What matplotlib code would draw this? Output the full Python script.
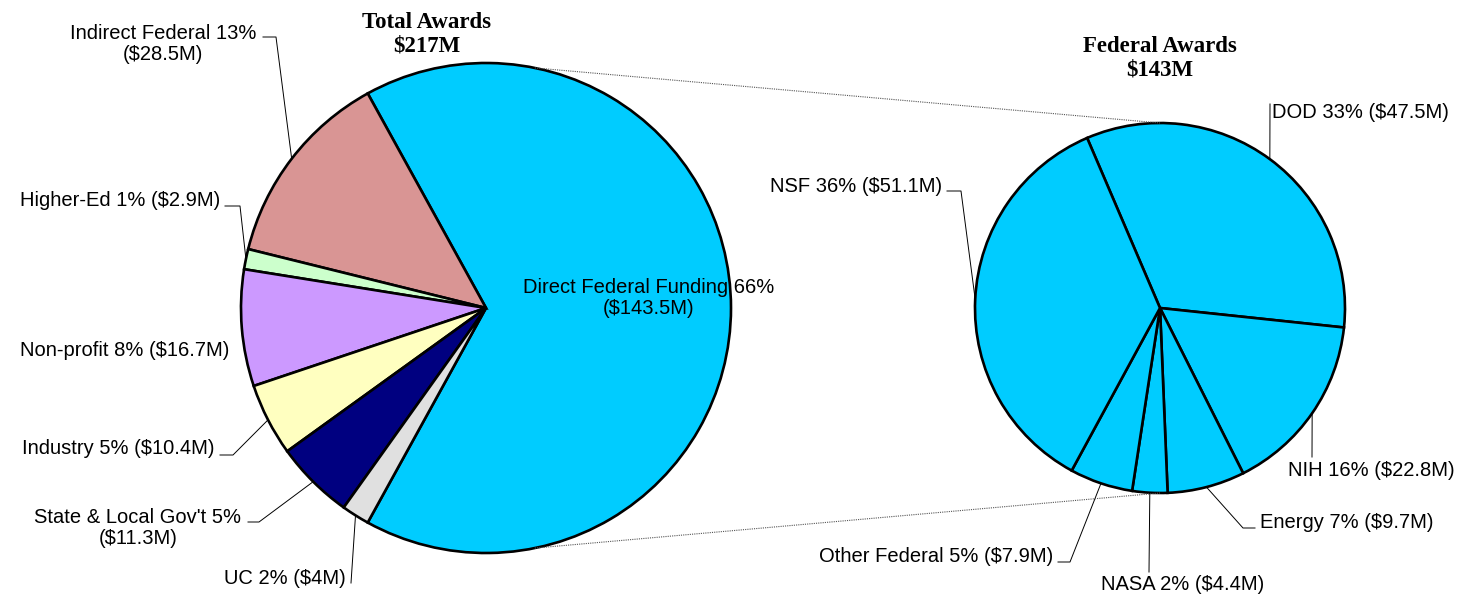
# Pie-of-pie chart of research awards by sponsor

import numpy as np
import matplotlib.pyplot as plt

W, H = 1459, 596

# Total awards ($M)
total_names = ["Direct Federal Funding", "Indirect Federal", "Higher-Ed",
               "Non-profit", "Industry", "State & Local Gov't", "UC"]
total_values = [143.5, 28.5, 2.9, 16.7, 10.4, 11.3, 4]
total_labels = ["Direct Federal Funding 66%\n($143.5M)",
                "Indirect Federal 13%\n($28.5M)",
                "Higher-Ed 1% ($2.9M)",
                "Non-profit 8% ($16.7M)",
                "Industry 5% ($10.4M)",
                "State & Local Gov't 5%\n($11.3M)",
                "UC 2% ($4M)"]
total_colors = ["#00CCFF", "#D99594", "#CCFFCC", "#CC99FF",
                "#FFFFC0", "#000080", "#E0E0E0"]

# Federal awards ($M)
fed_names = ["DOD", "NIH", "Energy", "NASA", "Other Federal", "NSF"]
fed_values = [47.5, 22.8, 9.7, 4.4, 7.9, 51.1]
fed_labels = ["DOD 33% ($47.5M)", "NIH 16% ($22.8M)", "Energy 7% ($9.7M)",
              "NASA 2% ($4.4M)", "Other Federal 5% ($7.9M)", "NSF 36% ($51.1M)"]

plt.rcParams["font.family"] = ["Liberation Sans", "DejaVu Sans"]

fig = plt.figure(figsize=(W / 100, H / 100), dpi=100)
ax = fig.add_axes([0, 0, 1, 1])

# pixel layout (y measured from top)
c1, r1 = (486, 308), 245
c2, r2 = (1160, 308), 185


def P(x, y):
    return (x, H - y)


start1 = -360 * total_values[0] / sum(total_values) / 2
w1, _ = ax.pie(total_values, colors=total_colors, startangle=start1,
               counterclock=True, center=P(*c1), radius=r1, frame=True,
               wedgeprops=dict(edgecolor="black", linewidth=1.9))
w2, _ = ax.pie(fed_values, colors=["#00CCFF"] * len(fed_values),
               startangle=113.2, counterclock=False, center=P(*c2), radius=r2,
               frame=True, wedgeprops=dict(edgecolor="black", linewidth=1.9))

ax.set_xlim(0, W)
ax.set_ylim(0, H)
ax.set_aspect("equal")
ax.axis("off")


def edge(w, c, r):
    a = np.deg2rad((w.theta1 + w.theta2) / 2)
    return c[0] + r * np.cos(a), H - c[1] + r * np.sin(a)


fs = 14.5
# text pos, ha, leader points (from label toward pie)
lay1 = [
    ((649, 298), "center", None),
    ((163, 44), "center", [(263, 37), (276, 37)]),
    ((220, 201), "right", [(225, 206), (240, 206)]),
    ((229, 351), "right", None),
    ((215, 449), "right", [(220, 455), (233, 455)]),
    ((138, 528), "center", [(248, 522), (259, 522)]),
    ((346, 578), "right", [(351, 583)]),
]
lay2 = [
    ((1272, 113), "left", [(1270, 104)]),
    ((1288, 470), "left", [(1312, 457)]),
    ((1260, 523), "left", [(1255, 528), (1243, 528)]),
    ((1183, 585), "center", [(1149, 572)]),
    ((1053, 557), "right", [(1058, 562), (1070, 562)]),
    ((942, 186), "right", [(947, 191), (961, 191)]),
]

for wedges, labels, lay, c, r in [(w1, total_labels, lay1, c1, r1),
                                  (w2, fed_labels, lay2, c2, r2)]:
    for w, lab, (pos, ha, pts) in zip(wedges, labels, lay):
        ax.text(*P(*pos), lab, ha=ha, va="center", multialignment="center",
                fontsize=fs, color="black", linespacing=1.1)
        if pts:
            xs = [p[0] for p in pts]
            ys = [H - p[1] for p in pts]
            ex, ey = edge(w, c, r)
            ax.plot(xs + [ex], ys + [ey], color="black", lw=0.7)

# connector lines between the pies
for s in (1, -1):
    a = np.deg2rad(78.5 * s)
    ax.plot([c1[0] + r1 * np.cos(a), c2[0]],
            [H - c1[1] + r1 * np.sin(a), H - c2[1] + s * r2],
            color="#555555", lw=0.8, ls=(0, (1, 1)))

serif = ["Liberation Serif", "DejaVu Serif"]
ax.text(*P(427, 34), "Total Awards\n$217M", ha="center", va="center",
        fontsize=16.5, fontweight="bold", family=serif, linespacing=1.15)
ax.text(*P(1160, 58), "Federal Awards\n$143M", ha="center", va="center",
        fontsize=16.5, fontweight="bold", family=serif, linespacing=1.15)

fig.savefig("out.png", dpi=100)
